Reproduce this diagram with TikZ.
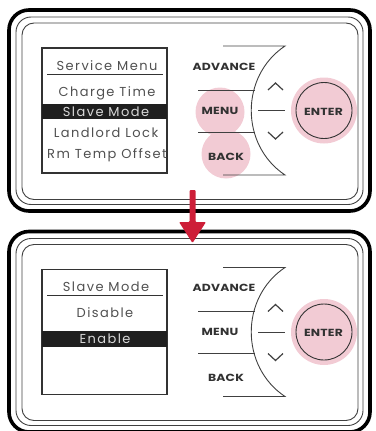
\documentclass[tikz,border=0pt]{standalone}
\usepackage{fontspec}
\setmainfont{Poppins}
\newfontfamily\scrfont[LetterSpace=11]{Poppins}
\newfontfamily\btnfont[FakeStretch=1.2,LetterSpace=2]{Poppins}
\definecolor{pinkb}{RGB}{242,203,212}
\definecolor{arrowred}{RGB}{205,30,56}
\definecolor{scrtext}{RGB}{80,80,80}
\definecolor{btntext}{RGB}{50,50,50}
\tikzset{
  thickframe/.style={line width=3.6pt, rounded corners=20pt, draw=black},
  thinframe/.style={line width=0.9pt, rounded corners=15pt, draw=black!75},
  screenbox/.style={line width=1.1pt, draw=black!80},
  scrtxt/.style={font=\scrfont\fontsize{13}{13}\selectfont, text=scrtext, inner sep=0pt, anchor=base},
  seltxt/.style={scrtxt, text=white!85!black},
  selbar/.style={fill=black!88, draw=none},
  btntxt/.style={font=\btnfont\bfseries\fontsize{10.3}{10}\selectfont, text=btntext, inner sep=0pt, anchor=base},
  keyline/.style={line width=0.9pt, draw=black!75},
  pinkdot/.style={fill=pinkb, draw=none},
  enterring/.style={line width=0.9pt, draw=black!80},
  redarrow/.style={draw=none, fill=arrowred}
}
\newcommand{\keypad}[1]{%
  \coordinate (#1tl) at (223,46);
  \coordinate (#1tr) at (285,46);
  \coordinate (#1br) at (285,175);
  \coordinate (#1bl) at (223,175);
  \draw[keyline] (#1tl) -- (#1tr) .. controls (240,76) and (240,145) .. (#1br) -- (#1bl);
  \coordinate (#1ua) at (198,90);  \coordinate (#1ub) at (255,90);
  \coordinate (#1da) at (198,132); \coordinate (#1db) at (255,132);
  \coordinate (#1ma) at (258,110.5); \coordinate (#1mb) at (285,110.5);
  \draw[keyline] (#1ua) -- (#1ub);
  \draw[keyline] (#1da) -- (#1db);
  \draw[keyline] (#1ma) -- (#1mb);
  \coordinate (#1c1) at (268,90); \coordinate (#1c2) at (275.5,83); \coordinate (#1c3) at (283,90);
  \draw[keyline, line width=1.2pt] (#1c1) -- (#1c2) -- (#1c3);
  \coordinate (#1d1) at (268,132); \coordinate (#1d2) at (275.5,139); \coordinate (#1d3) at (283,132);
  \draw[keyline, line width=1.2pt] (#1d1) -- (#1d2) -- (#1d3);
  \node[circle, pinkdot, minimum size=66pt] (#1halo) at (324,110.5) {};
  \node[circle, enterring, minimum size=56pt] (#1ring) at (324,110.5) {};
  \node[btntxt] (#1enter) at (323.5,115) {ENTER};
  \node[btntxt] (#1adv) at (224,70) {ADVANCE};
}
\begin{document}
\begin{tikzpicture}[x=1pt,y=-1pt]
\useasboundingbox (0,0) rectangle (375,431);
% ---------- frames
\draw[thickframe] (9,10) rectangle (370,211);
\draw[thinframe] (16,17) rectangle (363,204.5);
\draw[thinframe, rounded corners=12pt] (22,23) rectangle (358,199.5);
\draw[thickframe] (9,231.5) rectangle (370,432);
\draw[thinframe] (16,238.5) rectangle (363,425.5);
\draw[thinframe, rounded corners=12pt] (22,244.5) rectangle (358,420.5);
% ---------- top panel
\node[circle, pinkdot, minimum size=49pt] (mcirc) at (220,112) {};
\node[circle, pinkdot, minimum size=49pt] (bcirc) at (226,154) {};
\keypad{t}
\node[btntxt] (tmenu) at (220,114.5) {MENU};
\node[btntxt] (tback) at (226,160) {BACK};
\draw[screenbox] (42,48) rectangle (167,173);
\begin{scope}
  \clip (42,48) rectangle (167,173);
  \fill[selbar] (42,104) rectangle (167,119);
  \node[scrtxt] (t1) at (107,70) {Service Menu};
  \node[scrtxt] (t2) at (107,96) {Charge Time};
  \node[seltxt] (t3) at (106,116) {Slave Mode};
  \node[scrtxt] (t4) at (106,137.5) {Landlord Lock};
  \node[scrtxt] (t5) at (107,158) {Rm Temp Offset};
\end{scope}
\draw[line width=0.9pt, black!80] (47,74.5) -- (163,74.5);
% ---------- bottom panel
\begin{scope}[shift={(0,221.5)}]
\keypad{b}
\node[btntxt] (bmenu) at (220,114) {MENU};
\node[btntxt] (bback) at (226,159.5) {BACK};
\draw[screenbox] (42,48) rectangle (167,173);
\fill[selbar] (42,109.5) rectangle (167,125.5);
\node[scrtxt] (s1) at (106,70) {Slave Mode};
\draw[line width=0.9pt, black!80] (47,74) -- (163,74);
\node[scrtxt] (s2) at (105,95.5) {Disable};
\node[seltxt] (s3) at (105,121.5) {Enable};
\end{scope}
% ---------- arrow
\coordinate (atop) at (192.5,190);
\coordinate (atip) at (192.5,243);
\fill[redarrow, rounded corners=1pt] (189.5,190) -- (195.5,190) -- (195.5,222) -- (206,222) -- (atip) -- (179,222) -- (189.5,222) -- cycle;
\end{tikzpicture}
\end{document}
